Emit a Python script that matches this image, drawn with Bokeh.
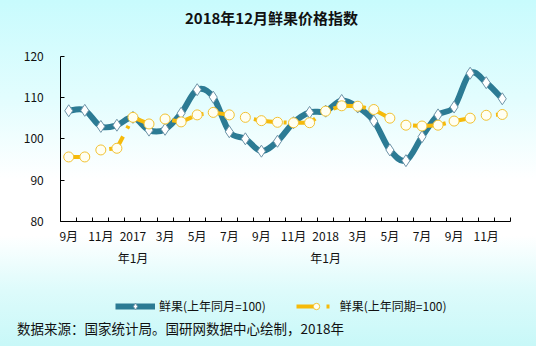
import numpy as np
from bokeh.plotting import figure
from bokeh.models import FixedTicker, Legend, LegendItem, Label, Range1d
from bokeh.embed import file_html
from bokeh.resources import INLINE

# ---- data -----------------------------------------------------------------
months = ["2016-09", "2016-10", "2016-11", "2016-12",
          "2017-01", "2017-02", "2017-03", "2017-04", "2017-05", "2017-06",
          "2017-07", "2017-08", "2017-09", "2017-10", "2017-11", "2017-12",
          "2018-01", "2018-02", "2018-03", "2018-04", "2018-05", "2018-06",
          "2018-07", "2018-08", "2018-09", "2018-10", "2018-11", "2018-12"]
tick_labels = ["9月", "11月", "2017\n年1月", "3月", "5月", "7月", "9月", "11月",
               "2018\n年1月", "3月", "5月", "7月", "9月", "11月"]
yoy_month = [106.8, 106.9, 103.0, 103.3, 105.2, 102.1, 102.3, 106.2, 111.9, 110.1,
             101.7, 100.0, 97.0, 99.4, 103.9, 106.4, 106.7, 109.3, 107.7, 104.3,
             97.3, 94.7, 100.5, 105.8, 107.7, 115.9, 113.6, 109.7]
yoy_period = [95.6, 95.6, 97.3, 97.7, 105.2, 103.6, 104.8, 104.1, 105.8, 106.4,
              105.8, 105.2, 104.4, 104.0, 103.9, 103.9, 106.7, 108.0, 107.9, 107.1,
              105.0, 103.3, 103.1, 103.3, 104.3, 105.0, 105.7, 105.9]
y_ticks = [80, 90, 100, 110, 120]
y_lo, y_hi = 80, 120
series_names = ["鲜果(上年同月=100)", "鲜果(上年同期=100)"]
title_text = "2018年12月鲜果价格指数"
source_text = "数据来源：国家统计局。国研网数据中心绘制，2018年"

n = len(months)
xs = np.arange(n) + 0.5
label_pos = list(xs[::2])

FONT = "Noto Sans CJK SC"
BLUE = "#2C7B94"
ORANGE = "#F6BA0A"

W, H = 536, 346
# layout (pixels inside the figure): axis frame box
AX_L, AX_R, AX_T, AX_B = 60.2, 509.8, 55.8, 220.8
kx = (AX_R - AX_L) / n
ky = (AX_B - AX_T) / (y_hi - y_lo)
x_range = Range1d(-AX_L / kx, n + (W - AX_R) / kx)
y_range = Range1d(y_lo - (H - AX_B) / ky, y_hi + AX_T / ky)

p = figure(width=W, height=H, output_backend="svg", toolbar_location=None,
           x_range=x_range, y_range=y_range, title=None,
           min_border=0, min_border_left=0, min_border_right=0,
           min_border_top=0, min_border_bottom=0,
           border_fill_color=None, background_fill_color=None, outline_line_color=None)
p.styles = {"background": "linear-gradient(to bottom, #C8FBFD 0%, #E2FDFE 28%, #FFFFFF 52%, #FFFFFF 68%, #DDFBFB 84%, #C8F8F8 100%)"}
p.grid.visible = False

xa = p.xaxis[0]
xa.fixed_location = y_lo
xa.bounds = (0, n)
xa.ticker = FixedTicker(ticks=label_pos, minor_ticks=list(range(n + 1)))
xa.major_label_overrides = {float(k): v for k, v in zip(label_pos, tick_labels)}
xa.major_tick_in = 0
xa.major_tick_out = 0
xa.minor_tick_in = 4
xa.minor_tick_out = 0
xa.minor_tick_line_color = "black"
xa.axis_line_color = "black"
xa.major_label_text_font = FONT
xa.major_label_text_font_size = "12px"
xa.major_label_text_color = "#111111"
xa.major_label_text_line_height = 1.25
xa.major_label_standoff = 6

ya = p.yaxis[0]
ya.fixed_location = 0
ya.bounds = (y_lo, y_hi)
ya.ticker = FixedTicker(ticks=y_ticks, minor_ticks=[])
ya.major_tick_in = 4
ya.major_tick_out = 0
ya.major_tick_line_color = "black"
ya.axis_line_color = "black"
ya.major_label_text_font = FONT
ya.major_label_text_font_size = "12px"
ya.major_label_text_color = "#111111"
ya.major_label_standoff = 17

# smooth blue curve (Catmull-Rom -> bezier control points from data)
yb = np.array(yoy_month)
px = np.concatenate([[xs[0]], xs, [xs[-1]]])
py = np.concatenate([[yb[0]], yb, [yb[-1]]])
x0, y0 = xs[:-1], yb[:-1]
x1, y1 = xs[1:], yb[1:]
cx0 = x0 + (px[2:-1] - px[0:-3]) / 6.0
cy0 = y0 + (py[2:-1] - py[0:-3]) / 6.0
cx1 = x1 - (px[3:] - px[1:-2]) / 6.0
cy1 = y1 - (py[3:] - py[1:-2]) / 6.0

bez = p.bezier(x0=x0, y0=y0, x1=x1, y1=y1, cx0=cx0, cy0=cy0, cx1=cx1, cy1=cy1,
               line_color=BLUE, line_width=6)
bm = p.scatter(xs, yoy_month, marker="diamond", size=12, fill_color="white",
               line_color="#6E94A8", line_width=1)

ol = p.line(xs, yoy_period, line_color=ORANGE, line_width=4, line_dash="21 9 3 9")
om = p.scatter(xs, yoy_period, marker="circle", size=10, fill_color="#FFFFF2",
               line_color="#F2C233", line_width=1)

legend = Legend(items=[LegendItem(label=series_names[0], renderers=[bez, bm]),
                       LegendItem(label=series_names[1], renderers=[ol, om])],
                orientation="horizontal", location=(115, 32),
                glyph_width=40, glyph_height=16, label_standoff=4, spacing=30,
                label_text_font=FONT, label_text_font_size="12px",
                label_text_color="#111111",
                background_fill_alpha=0, border_line_color=None,
                margin=0, padding=4)
p.add_layout(legend, "center")

title = Label(x=271, y=H - 16.5, x_units="screen", y_units="screen", text=title_text,
              text_font=FONT, text_font_size="15px", text_font_style="bold",
              text_color="#111111", text_align="center", text_baseline="middle")
p.add_layout(title)

src = Label(x=16.5, y=H - 327, x_units="screen", y_units="screen", text=source_text,
            text_font=FONT, text_font_size="13.5px", text_color="#111111",
            text_baseline="middle", text_align="left")
p.add_layout(src)

open("out.html", "w").write(file_html(p, INLINE))
